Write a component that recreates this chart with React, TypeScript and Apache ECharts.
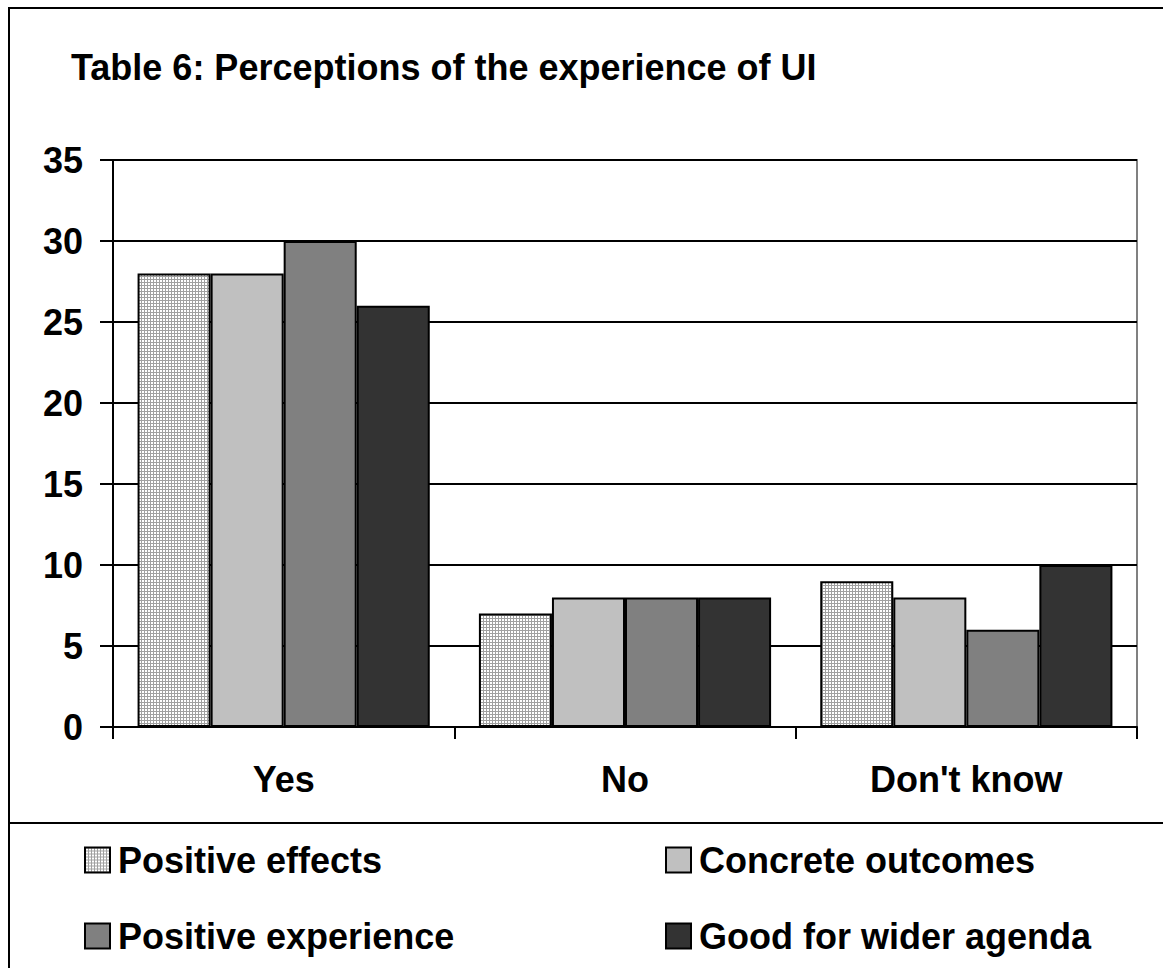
import React, { useEffect, useRef } from "react";
import * as echarts from "echarts";

const categories = ["Yes", "No", "Don't know"];
const seriesNames = ["Positive effects", "Concrete outcomes", "Positive experience", "Good for wider agenda"];
const positiveEffects = [28, 7, 9];
const concreteOutcomes = [28, 8, 8];
const positiveExperience = [30, 8, 6];
const goodForWiderAgenda = [26, 8, 10];
const yTicks = { min: 0, max: 35, interval: 5 };

function makePattern(): string {
  const c = document.createElement("canvas");
  c.width = 3;
  c.height = 3;
  const ctx = c.getContext("2d")!;
  ctx.fillStyle = "#ffffff";
  ctx.fillRect(0, 0, 3, 3);
  ctx.fillStyle = "#a0a0a0";
  ctx.fillRect(0, 0, 3, 1);
  ctx.fillRect(0, 0, 1, 3);
  return c.toDataURL();
}

export default function App() {
  const ref = useRef<HTMLDivElement>(null);
  useEffect(() => {
    const chart = echarts.init(ref.current!, undefined, { renderer: "svg" });
    const pat = { image: makePattern(), repeat: "repeat" } as any;
    const colors = [pat, "#c0c0c0", "#808080", "#333333"];
    const values = [positiveEffects, concreteOutcomes, positiveExperience, goodForWiderAgenda];
    const font = "'Liberation Sans', Arial, sans-serif";
    const legendPos = [
      { left: 84, top: 842 },
      { left: 665, top: 842 },
      { left: 84, top: 918 },
      { left: 665, top: 918 },
    ];
    chart.setOption({
      animation: false,
      backgroundColor: "#ffffff",
      textStyle: { fontFamily: font },
      title: {
        text: "Table 6: Perceptions of the experience of UI",
        left: 66,
        top: 44,
        textStyle: { fontSize: 36, fontWeight: "bold", color: "#000", fontFamily: font },
      },
      legend: legendPos.map((p, i) => ({
        left: p.left,
        top: p.top,
        padding: 0,
        data: [seriesNames[i]],
        itemWidth: 25,
        itemHeight: 25,
        itemGap: 0,
        icon: "rect",
        textStyle: { fontSize: 36, lineHeight: 36, fontWeight: "bold", color: "#000", fontFamily: font, padding: [0, 0, 0, 3] },
        itemStyle: { borderColor: "#000", borderWidth: 2 },
      })),
      grid: {
        left: 113,
        right: 26,
        top: 160,
        bottom: 241,
        show: true,
        borderColor: "#808080",
        borderWidth: 2,
        backgroundColor: "transparent",
      },
      xAxis: {
        type: "category",
        data: categories,
        axisLine: { lineStyle: { color: "#000", width: 2 } },
        axisTick: { show: true, length: 12, lineStyle: { color: "#000", width: 2 } },
        axisLabel: { fontSize: 36, fontWeight: "bold", color: "#000", margin: 34, fontFamily: font },
      },
      yAxis: {
        type: "value",
        min: yTicks.min,
        max: yTicks.max,
        interval: yTicks.interval,
        axisLine: { show: true, lineStyle: { color: "#000", width: 2 } },
        axisTick: { show: true, length: 13, lineStyle: { color: "#000", width: 2 } },
        axisLabel: { fontSize: 36, fontWeight: "bold", color: "#000", margin: 30, fontFamily: font },
        splitLine: { show: true, lineStyle: { color: "#000", width: 2 } },
      },
      series: seriesNames.map((name, i) => ({
        name,
        type: "bar",
        data: values[i],
        barGap: "0%",
        barCategoryGap: "14.4%",
        itemStyle: { color: colors[i], borderColor: "#000", borderWidth: 2 },
      })),
      graphic: [
        { type: "line", shape: { x1: 8, y1: 8, x2: 1163, y2: 8 }, style: { stroke: "#000", lineWidth: 2 } },
        { type: "line", shape: { x1: 9, y1: 7, x2: 9, y2: 968 }, style: { stroke: "#000", lineWidth: 2 } },
        { type: "line", shape: { x1: 8, y1: 823, x2: 1163, y2: 823 }, style: { stroke: "#000", lineWidth: 2 } },
      ],
    });
    return () => chart.dispose();
  }, []);
  return (
    <div
      ref={ref}
      style={{ position: "absolute", left: 0, top: 0, width: 1163, height: 968 }}
    />
  );
}
